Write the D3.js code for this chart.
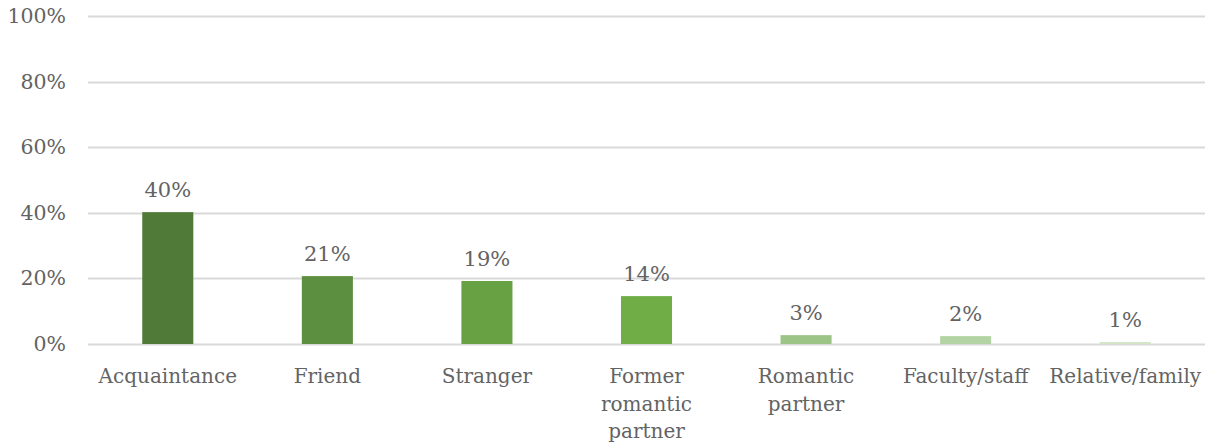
<!DOCTYPE html>
<html>
<head>
<meta charset="utf-8">
<script src="https://cdn.jsdelivr.net/npm/d3@7"></script>
<style>
  body { margin: 0; background: #fff; }
  text { font-family: "DejaVu Serif", "Liberation Serif", serif; fill: #636363; }
</style>
</head>
<body>
<div id="chart"></div>
<script>
// data
var categories = ["Acquaintance", "Friend", "Stranger", "Former romantic partner", "Romantic partner", "Faculty/staff", "Relative/family"]
var catLines = [["Acquaintance"], ["Friend"], ["Stranger"], ["Former", "romantic", "partner"], ["Romantic", "partner"], ["Faculty/staff"], ["Relative/family"]]
var values = [40.2, 20.7, 19.2, 14.6, 2.7, 2.4, 0.6]
var valueLabels = ["40%", "21%", "19%", "14%", "3%", "2%", "1%"]
var yTicks = [0, 20, 40, 60, 80, 100]
var colors = ["#4f7a37", "#5c8f3f", "#67a143", "#70ad47", "#9cc487", "#b4d3a4", "#d3e6c8"]

var width = 1212, height = 444

var svg = d3.select("#chart")
	.append("svg")
	.attr("width", width)
	.attr("height", height)

var x = d3.scaleBand()
	.domain(categories)
	.range([88, 1205])
	.padding(0)

var y = d3.scaleLinear()
	.domain([0, 100])
	.range([344, 16])

var barW = x.bandwidth() * 0.32

// gridlines
svg.append("g")
	.selectAll("line")
	.data(yTicks)
	.join("line")
	.attr("x1", 88)
	.attr("x2", 1205)
	.attr("y1", d => Math.round(y(d)) + 0.5)
	.attr("y2", d => Math.round(y(d)) + 0.5)
	.style("stroke", "#d9d9d9")
	.style("stroke-width", "2px")

// y labels
svg.append("g")
	.selectAll("text")
	.data(yTicks)
	.join("text")
	.attr("x", 66)
	.attr("y", d => y(d) + 7)
	.attr("text-anchor", "end")
	.style("font-size", "20.5px")
	.text(d => d + "%")

// bars
svg.append("g")
	.selectAll("rect")
	.data(values)
	.join("rect")
	.attr("x", (d, i) => x(categories[i]) + x.bandwidth() / 2 - barW / 2)
	.attr("y", d => y(d))
	.attr("width", barW)
	.attr("height", d => y(0) - y(d))
	.style("fill", (d, i) => colors[i])

// value labels
svg.append("g")
	.selectAll("text")
	.data(values)
	.join("text")
	.attr("x", (d, i) => x(categories[i]) + x.bandwidth() / 2)
	.attr("y", d => y(d) - 15)
	.attr("text-anchor", "middle")
	.style("font-size", "21px")
	.text((d, i) => valueLabels[i])

// category labels
var cat = svg.append("g")
	.selectAll("text")
	.data(catLines)
	.join("text")
	.attr("x", (d, i) => x(categories[i]) + x.bandwidth() / 2)
	.attr("y", 383)
	.attr("text-anchor", "middle")
	.style("font-size", "20px")

cat.selectAll("tspan")
	.data((d, i) => d.map(t => ({ t: t, i: i })))
	.join("tspan")
	.attr("x", d => x(categories[d.i]) + x.bandwidth() / 2)
	.attr("dy", (d, j) => j == 0 ? 0 : 27.5)
	.text(d => d.t)
</script>
</body>
</html>
